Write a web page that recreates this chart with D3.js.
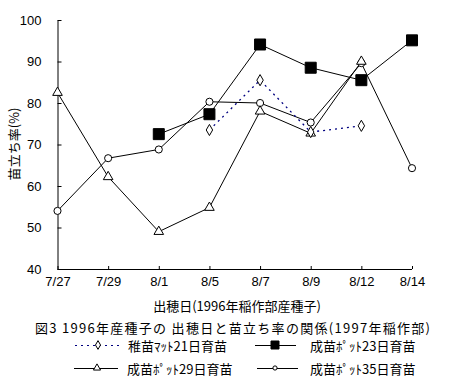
<!DOCTYPE html>
<html><head><meta charset="utf-8">
<script src="https://cdn.jsdelivr.net/npm/d3@7"></script>
<style>
html,body{margin:0;padding:0;background:#fff;}
svg{display:block;}
text{font-family:"Noto Sans CJK JP","Noto Sans",sans-serif;fill:#000;}
</style></head>
<body>
<svg id="chart" width="451" height="382"></svg>
<script>
const categories = ["7/27","7/29","8/1","8/5","8/7","8/9","8/12","8/14"];
const yTicks = [40,50,60,70,80,90,100];
const seriesNames = ["稚苗ﾏｯﾄ21日育苗","成苗ﾎﾟｯﾄ23日育苗","成苗ﾎﾟｯﾄ29日育苗","成苗ﾎﾟｯﾄ35日育苗"];
const mat21 = [null,null,null,73.5,85.5,73,74.5,null];
const pot23 = [null,null,72.5,77.3,94.1,88.5,85.5,95.1];
const pot29 = [82.5,62.2,49,54.8,78,72.7,90,null];
const pot35 = [54,66.7,68.8,80.3,80,75.3,89.6,64.3];
const xTitle = "出穂日(1996年稲作部産種子)";
const yTitle = "苗立ち率(%)";
const chartTitle = "図3 1996年産種子の 出穂日と苗立ち率の関係(1997年稲作部)";

const svg = d3.select("#chart");
const x = d3.scalePoint().domain(categories).range([57.5, 412]).padding(0);
const y = d3.scaleLinear().domain([40,100]).range([269, 20]);

// axes
const xAxis = d3.axisBottom(x).tickSizeInner(-3).tickSizeOuter(0).tickPadding(14);
const gx = svg.append("g").attr("transform","translate(0,269)").call(xAxis);
gx.select(".domain").attr("stroke","#000").attr("d","M57.5,0.5H412");
gx.selectAll(".tick line").attr("stroke","#000");
gx.selectAll(".tick text").attr("font-size",13).attr("dy","0.25em").style("font-family","'Liberation Sans',Arial,sans-serif");

const yAxis = d3.axisLeft(y).tickValues(yTicks).tickSizeInner(-4).tickSizeOuter(0).tickPadding(16);
const gy = svg.append("g").attr("transform","translate(57.5,0)").call(yAxis);
gy.select(".domain").attr("stroke","#000");
gy.selectAll(".tick line").attr("stroke","#000");
gy.selectAll(".tick text").attr("font-size",13).style("font-family","'Liberation Sans',Arial,sans-serif");

// titles
svg.append("text").attr("x",13).attr("y",144).attr("transform","rotate(-90,13,144)")
  .attr("text-anchor","middle").attr("dominant-baseline","central").attr("font-size",13).text(yTitle);
svg.append("text").attr("x",237).attr("y",311).attr("text-anchor","middle").attr("font-size",13).text(xTitle);
svg.append("text").attr("x",35).attr("y",333).attr("textLength",395).attr("lengthAdjust","spacing")
  .attr("font-size",13).text(chartTitle);

const line = d3.line().defined(d=>d.v!=null).x(d=>x(d.c)).y(d=>y(d.v));
function pts(arr){return categories.map((c,i)=>({c:c,v:arr[i]})).filter(d=>d.v!=null);}

// series lines
svg.append("path").datum(pts(pot35)).attr("d",line).attr("fill","none").attr("stroke","#000").attr("stroke-width",1);
svg.append("path").datum(pts(pot29)).attr("d",line).attr("fill","none").attr("stroke","#000").attr("stroke-width",1);
svg.append("path").datum(pts(pot23)).attr("d",line).attr("fill","none").attr("stroke","#000").attr("stroke-width",1);
svg.append("path").datum(pts(mat21)).attr("d",line).attr("fill","none").attr("stroke","#000080").attr("stroke-width",1.3).attr("stroke-dasharray","2,4");

// markers
const sym = (type,size)=>d3.symbol().type(type).size(size)();
function markers(arr,type,size,fill){
  svg.append("g").selectAll("path").data(pts(arr)).join("path")
    .attr("transform",d=>`translate(${x(d.c)},${y(d.v)})`)
    .attr("d",sym(type,size)).attr("fill",fill).attr("stroke","#000").attr("stroke-width",1);
}
markers(pot35,d3.symbolCircle,40,"#fff");
markers(pot29,d3.symbolTriangle,40,"#fff");
markers(mat21,d3.symbolDiamond,36,"#fff");
markers(pot23,d3.symbolSquare,121,"#000");

// legend
const legend = [
  {name:seriesNames[0],x1:75,x2:123,mx:98,y:345,type:d3.symbolDiamond,size:22,fill:"#fff",stroke:"#000080",dash:"2,4",tx:128},
  {name:seriesNames[1],x1:255,x2:296,mx:275,y:345,type:d3.symbolSquare,size:64,fill:"#000",stroke:"#000",dash:null,tx:310},
  {name:seriesNames[2],x1:74,x2:118,mx:97,y:368,type:d3.symbolTriangle,size:22,fill:"#fff",stroke:"#000",dash:null,tx:127},
  {name:seriesNames[3],x1:257,x2:298,mx:275,y:368,type:d3.symbolCircle,size:14,fill:"#fff",stroke:"#000",dash:null,tx:310}
];
const lg = svg.append("g").selectAll("g").data(legend).join("g");
lg.append("line").attr("x1",d=>d.x1).attr("x2",d=>d.x2).attr("y1",d=>d.y+0.5).attr("y2",d=>d.y+0.5)
  .attr("stroke",d=>d.stroke).attr("stroke-dasharray",d=>d.dash);
lg.append("path").attr("transform",d=>`translate(${d.mx},${d.y})`).attr("d",d=>sym(d.type,d.size))
  .attr("fill",d=>d.fill).attr("stroke","#000");
lg.append("text").attr("x",d=>d.tx).attr("y",d=>d.y).attr("dominant-baseline","central").attr("font-size",13).text(d=>d.name);
</script>
</body></html>
